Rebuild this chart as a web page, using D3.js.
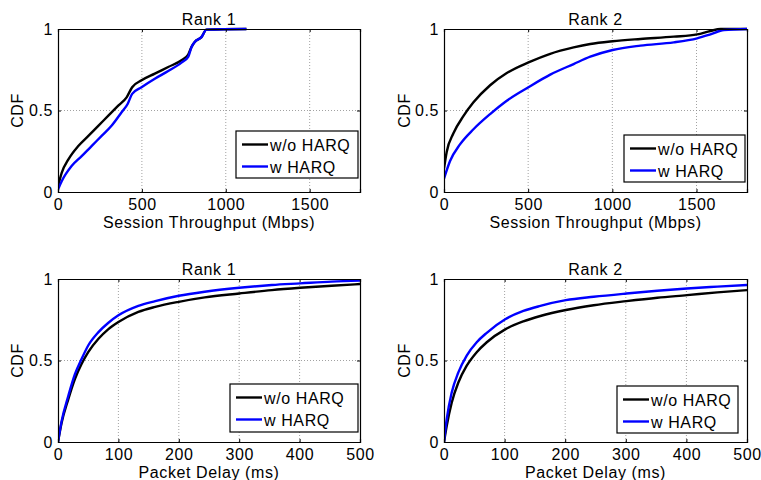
<!DOCTYPE html>
<html>
<head>
<meta charset="utf-8">
<script src="https://cdn.jsdelivr.net/npm/d3@7"></script>
<style>
  html, body { margin: 0; padding: 0; background: #fff; }
  svg text { font-family: "Liberation Sans", Arial, Helvetica, sans-serif; fill: #000; letter-spacing: 0.6px; }
</style>
</head>
<body>
<svg id="chart" width="761" height="480"></svg>
<script>
// ---------- DATA ----------
const seriesNames = ["w/o HARQ", "w HARQ"];
const panelTitles = ["Rank 1", "Rank 2", "Rank 1", "Rank 2"];
const xLabels = ["Session Throughput (Mbps)", "Session Throughput (Mbps)", "Packet Delay (ms)", "Packet Delay (ms)"];
const yLabel = "CDF";
const throughputTicks = [0, 500, 1000, 1500];
const delayTicks = [0, 100, 200, 300, 400, 500];
const cdfTicks = [0, 0.5, 1];

// Panel 1: Rank 1, session throughput
const tp1X_noHarq = [0, 22, 62, 121, 181, 240, 300, 359, 409, 442, 498, 577, 657, 736, 776, 796, 815, 855, 885, 1123];
const tp1Y_noHarq = [0.035, 0.118, 0.2, 0.282, 0.344, 0.406, 0.468, 0.53, 0.581, 0.643, 0.685, 0.726, 0.767, 0.808, 0.843, 0.89, 0.92, 0.95, 0.996, 1.0];
const tp1X_harq = [0, 22, 81, 141, 200, 260, 319, 379, 415, 442, 498, 577, 657, 736, 776, 796, 815, 855, 885, 1123];
const tp1Y_harq = [0.015, 0.066, 0.159, 0.22, 0.282, 0.344, 0.406, 0.489, 0.54, 0.602, 0.643, 0.695, 0.742, 0.794, 0.829, 0.89, 0.92, 0.95, 0.996, 1.0];

// Panel 2: Rank 2, session throughput
const tp2X_noHarq = [0, 16, 56, 115, 175, 274, 373, 502, 631, 770, 869, 1002, 1167, 1365, 1504, 1583, 1643, 1800];
const tp2Y_noHarq = [0.143, 0.246, 0.36, 0.465, 0.55, 0.655, 0.73, 0.795, 0.848, 0.887, 0.908, 0.925, 0.939, 0.953, 0.967, 0.988, 1.0, 1.0];
const tp2X_harq = [0, 36, 95, 175, 274, 373, 502, 631, 770, 869, 1002, 1167, 1365, 1504, 1583, 1663, 1800];
const tp2Y_harq = [0.082, 0.19, 0.292, 0.385, 0.478, 0.56, 0.643, 0.72, 0.785, 0.83, 0.871, 0.898, 0.918, 0.943, 0.967, 0.994, 1.0];

// Panel 3: Rank 1, packet delay
const dl1X = [0, 6, 17, 28, 39, 50, 67, 83, 100, 133, 161, 200, 243, 300, 354, 401, 453, 500];
const dl1Y_noHarq = [0, 0.118, 0.262, 0.386, 0.478, 0.551, 0.633, 0.691, 0.736, 0.798, 0.829, 0.86, 0.887, 0.911, 0.932, 0.946, 0.959, 0.969];
const dl1Y_harq = [0, 0.128, 0.282, 0.416, 0.509, 0.592, 0.674, 0.73, 0.777, 0.835, 0.864, 0.897, 0.922, 0.946, 0.963, 0.973, 0.984, 0.99];

// Panel 4: Rank 2, packet delay
const dl2X = [0, 4.4, 12.7, 23.7, 37.5, 54, 70.6, 101, 131, 159, 201, 247, 301, 352, 401, 451, 500];
const dl2Y_noHarq = [0, 0.097, 0.241, 0.365, 0.468, 0.551, 0.612, 0.691, 0.74, 0.773, 0.81, 0.839, 0.864, 0.885, 0.901, 0.918, 0.932];
const dl2Y_harq = [0, 0.138, 0.303, 0.427, 0.53, 0.612, 0.67, 0.753, 0.804, 0.835, 0.87, 0.891, 0.911, 0.928, 0.942, 0.953, 0.963];

const colors = ["#000000", "#0000ff"];

// ---------- LAYOUT ----------
const panels = [
  { x0: 58,  x1: 360, y0: 29,  y1: 192, xMax: 1800, xTicks: throughputTicks,
    series: [[tp1X_noHarq, tp1Y_noHarq], [tp1X_harq, tp1Y_harq]],
    legend: { x: 236, y: 131, w: 122, h: 47 }, ylabX: 23 },
  { x0: 444, x1: 747, y0: 29,  y1: 192, xMax: 1800, xTicks: throughputTicks,
    series: [[tp2X_noHarq, tp2Y_noHarq], [tp2X_harq, tp2Y_harq]],
    legend: { x: 624, y: 135, w: 121, h: 47 }, ylabX: 410 },
  { x0: 58,  x1: 360, y0: 279, y1: 442, xMax: 500, xTicks: delayTicks,
    series: [[dl1X, dl1Y_noHarq], [dl1X, dl1Y_harq]],
    legend: { x: 230, y: 384, w: 128, h: 48 }, ylabX: 23 },
  { x0: 444, x1: 747, y0: 279, y1: 442, xMax: 500, xTicks: delayTicks,
    series: [[dl2X, dl2Y_noHarq], [dl2X, dl2Y_harq]],
    legend: { x: 617, y: 386, w: 121, h: 47 }, ylabX: 410 }
];

const svg = d3.select("#chart");
const FS = 16;

panels.forEach((p, i) => {
  const x = d3.scaleLinear().domain([0, p.xMax]).range([p.x0, p.x1]);
  const y = d3.scaleLinear().domain([0, 1]).range([p.y1, p.y0]);
  const g = svg.append("g");

  // grid
  g.selectAll("line.gx").data(p.xTicks.filter(t => t > 0 && t < p.xMax)).join("line")
    .attr("x1", d => x(d)).attr("x2", d => x(d)).attr("y1", p.y0).attr("y2", p.y1)
    .attr("stroke", "#8a8a8a").attr("stroke-width", 0.8).attr("stroke-dasharray", "1,2");
  g.selectAll("line.gy").data(cdfTicks.filter(t => t > 0 && t < 1)).join("line")
    .attr("x1", p.x0).attr("x2", p.x1).attr("y1", d => y(d)).attr("y2", d => y(d))
    .attr("stroke", "#8a8a8a").attr("stroke-width", 0.8).attr("stroke-dasharray", "1,2");

  // clip
  const cid = "clip" + i;
  svg.append("clipPath").attr("id", cid).append("rect")
    .attr("x", p.x0).attr("y", p.y0 - 2).attr("width", p.x1 - p.x0).attr("height", p.y1 - p.y0 + 2);

  // lines
  const line = d3.line().x(d => x(d[0])).y(d => y(d[1])).curve(d3.curveMonotoneX);
  p.series.forEach((s, k) => {
    const pts = s[0].map((xv, j) => [xv, s[1][j]]);
    g.append("path").datum(pts).attr("d", line)
      .attr("fill", "none").attr("stroke", colors[k]).attr("stroke-width", 2.4)
      .attr("clip-path", `url(#${cid})`);
  });

  // axes (inward ticks)
  const axB = d3.axisBottom(x).tickValues(p.xTicks).tickSize(-3).tickPadding(7).tickFormat(d3.format("d"));
  const axL = d3.axisLeft(y).tickValues(cdfTicks).tickSize(-3).tickPadding(5).tickFormat(d => d === 0.5 ? "0.5" : d3.format("d")(d));
  const axT = d3.axisTop(x).tickValues(p.xTicks).tickSize(-3).tickFormat("");
  const axR = d3.axisRight(y).tickValues(cdfTicks).tickSize(-3).tickFormat("");

  g.append("g").attr("transform", `translate(0,${p.y1})`).call(axB);
  g.append("g").attr("transform", `translate(${p.x0},0)`).call(axL);
  g.append("g").attr("transform", `translate(0,${p.y0})`).call(axT);
  g.append("g").attr("transform", `translate(${p.x1},0)`).call(axR);
  g.selectAll(".domain").attr("stroke", "#000").attr("stroke-width", 1.2);
  g.selectAll(".tick line").attr("stroke", "#000").attr("stroke-width", 1);
  g.selectAll(".tick text").attr("font-size", FS).attr("font-family", "Liberation Sans, Arial, sans-serif").attr("fill", "#000");

  // title
  g.append("text").attr("x", (p.x0 + p.x1) / 2).attr("y", p.y0 - 4)
    .attr("text-anchor", "middle").attr("font-size", FS).text(panelTitles[i]);
  // x label
  g.append("text").attr("x", (p.x0 + p.x1) / 2).attr("y", p.y1 + 36)
    .attr("text-anchor", "middle").attr("font-size", FS).text(xLabels[i]);
  // y label
  g.append("text").attr("transform", `translate(${p.ylabX},${(p.y0 + p.y1) / 2}) rotate(-90)`)
    .attr("text-anchor", "middle").attr("font-size", FS).text(yLabel);

  // legend
  const L = p.legend;
  const lg = g.append("g");
  lg.append("rect").attr("x", L.x).attr("y", L.y).attr("width", L.w).attr("height", L.h)
    .attr("fill", "#fff").attr("stroke", "#000").attr("stroke-width", 1.2);
  seriesNames.forEach((name, k) => {
    const ly = L.y + 13.5 + k * 22;
    lg.append("line").attr("x1", L.x + 6).attr("x2", L.x + 32).attr("y1", ly).attr("y2", ly)
      .attr("stroke", colors[k]).attr("stroke-width", 2.4);
    lg.append("text").attr("x", L.x + 34).attr("y", ly + 6).attr("font-size", FS).text(name);
  });
});
</script>
</body>
</html>
